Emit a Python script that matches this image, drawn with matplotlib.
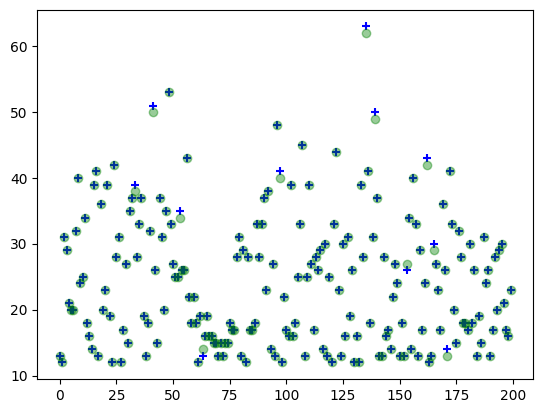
import matplotlib
matplotlib.use("Agg")
import matplotlib.pyplot as plt
import numpy as np

x = list(range(200))

y_plus = [
    13, 12, 31, 29, 21, 20, 20, 32, 40, 24,
    25, 34, 18, 16, 14, 39, 41, 13, 36, 20,
    23, 39, 19, 12, 42, 28, 31, 12, 17, 27,
    15, 35, 37, 39, 28, 33, 37, 19, 13, 18,
    32, 51, 26, 15, 37, 31, 20, 35, 53, 33,
    27, 25, 25, 35, 26, 26, 43, 22, 18, 22,
    18, 12, 19, 13, 16, 19, 16, 16, 15, 15,
    13, 15, 13, 15, 15, 18, 17, 17, 28, 31,
    13, 29, 12, 28, 17, 17, 18, 33, 28, 33,
    37, 23, 38, 14, 27, 13, 48, 41, 12, 22,
    17, 16, 39, 16, 18, 25, 33, 45, 13, 25,
    39, 27, 17, 28, 26, 29, 14, 30, 13, 25,
    12, 33, 44, 23, 13, 30, 16, 31, 19, 26,
    12, 16, 12, 39, 28, 63, 41, 18, 31, 50,
    37, 13, 13, 28, 16, 17, 14, 22, 27, 24,
    13, 18, 13, 26, 34, 14, 40, 33, 13, 29,
    17, 24, 43, 12, 13, 30, 27, 23, 17, 36,
    26, 14, 41, 33, 20, 15, 32, 28, 18, 18,
    17, 30, 18, 26, 13, 19, 15, 31, 24, 26,
    13, 17, 28, 20, 29, 30, 21, 17, 16, 23,
]

y_circle = [
    13, 12, 31, 29, 21, 20, 20, 32, 40, 24,
    25, 34, 18, 16, 14, 39, 41, 13, 36, 20,
    23, 39, 19, 12, 42, 28, 31, 12, 17, 27,
    15, 35, 37, 38, 28, 33, 37, 19, 13, 18,
    32, 50, 26, 15, 37, 31, 20, 35, 53, 33,
    27, 25, 25, 34, 26, 26, 43, 22, 18, 22,
    18, 12, 19, 14, 16, 19, 16, 16, 15, 15,
    13, 15, 13, 15, 15, 18, 17, 17, 28, 31,
    13, 29, 12, 28, 17, 17, 18, 33, 28, 33,
    37, 23, 38, 14, 27, 13, 48, 40, 12, 22,
    17, 16, 39, 16, 18, 25, 33, 45, 13, 25,
    39, 27, 17, 28, 26, 29, 14, 30, 13, 25,
    12, 33, 44, 23, 13, 30, 16, 31, 19, 26,
    12, 16, 12, 39, 28, 62, 41, 18, 31, 49,
    37, 13, 13, 28, 16, 17, 14, 22, 27, 24,
    13, 18, 13, 27, 34, 14, 40, 33, 13, 29,
    17, 24, 42, 12, 13, 29, 27, 23, 17, 36,
    26, 13, 41, 33, 20, 15, 32, 28, 18, 18,
    17, 30, 18, 26, 13, 19, 15, 31, 24, 26,
    13, 17, 28, 20, 29, 30, 21, 17, 16, 23,
]

fig = plt.figure(figsize=(5.43, 4.13), dpi=100)
ax = fig.add_axes([0.0687, 0.0816, 0.9134, 0.895])
ax.scatter(x, y_plus, marker='+', color='blue')
ax.scatter(x, y_circle, color='green', alpha=0.4)
fig.savefig("out.png", dpi=100)
